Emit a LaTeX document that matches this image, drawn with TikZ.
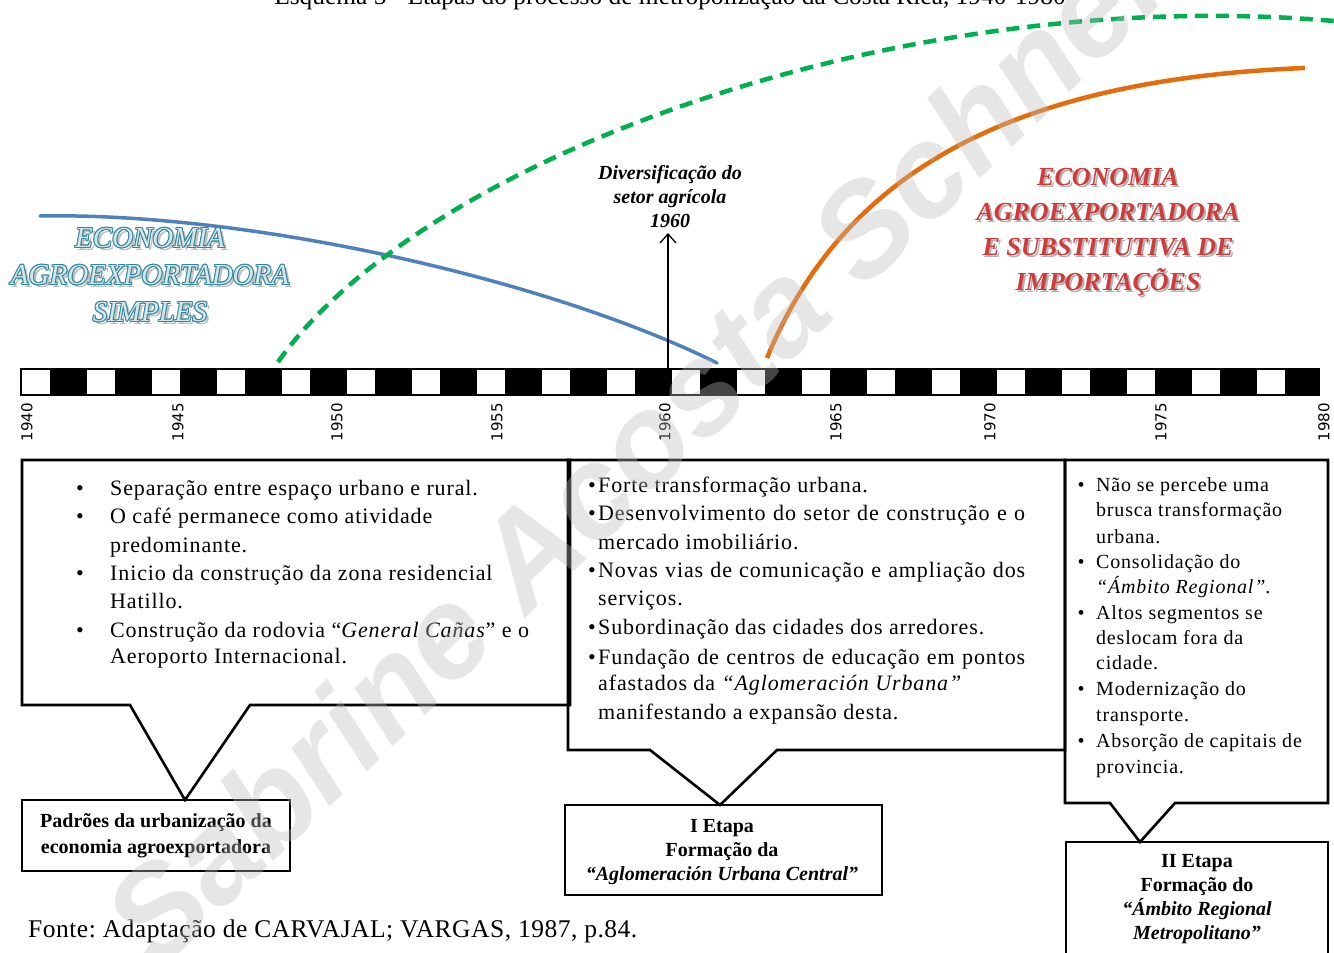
\documentclass[tikz,border=0pt]{standalone}
\usepackage{fontspec}
\setmainfont{Liberation Serif}
\newfontfamily\boxfont{Liberation Serif}[LetterSpace=4]
\newfontfamily\srcfont{Liberation Serif}[LetterSpace=2]
\newfontfamily\yearfont{DejaVu Sans}
\newfontfamily\wmfont{Liberation Sans}
\usetikzlibrary{arrows.meta}
\frenchspacing
\definecolor{cblue}{RGB}{79,129,189}
\definecolor{cgreen}{RGB}{0,176,80}
\definecolor{corange}{RGB}{228,108,10}
\definecolor{cred}{RGB}{208,58,58}
\definecolor{cteal}{RGB}{49,133,156}
\tikzset{
 boxline/.style={line width=2.6pt, line join=miter},
 txtA/.style={anchor=base west, inner sep=0pt, font=\boxfont\fontsize{22}{28}\selectfont},
 txtC/.style={anchor=base west, inner sep=0pt, font=\boxfont\fontsize{20}{25}\selectfont},
 bulA/.style={anchor=base, inner sep=0pt, font=\fontsize{22}{28}\selectfont},
 bulC/.style={anchor=base, inner sep=0pt, font=\fontsize{20}{25}\selectfont},
 lowbox/.style={draw, line width=2.6pt, inner sep=0pt},
 lowtxt/.style={align=center, inner sep=0pt, font=\bfseries\fontsize{20}{24}\selectfont},
 yearlbl/.style={rotate=90, anchor=east, inner sep=0pt, font=\yearfont\fontsize{15}{15}\selectfont},
 redhead/.style={align=center, inner sep=0pt, font=\bfseries\itshape\fontsize{26}{35}\selectfont},
 bluehead/.style={align=center, inner sep=0pt, font=\itshape\fontsize{29}{37}\selectfont},
 divtxt/.style={align=center, inner sep=0pt, font=\bfseries\itshape\fontsize{20}{24}\selectfont},
}
\begin{document}
\begin{tikzpicture}[x=1pt,y=-1pt]
\useasboundingbox (0,0) rectangle (1334,953);
\fill[white] (0,0) rectangle (1334,953);

% title (cut at top)
\node[anchor=base, inner sep=0pt, font=\fontsize{25.4}{25.4}\selectfont] (title) at (670,5)
  {Esquema 5 - Etapas do processo de metropolização da Costa Rica, 1940-1980};

% curves
\draw[cblue, line width=3.5pt, line cap=round] (40,216) .. controls (250,212) and (550,280) .. (717,363);
\draw[cgreen, line width=4.5pt, dash pattern=on 13pt off 8pt] (278,362) .. controls (420,160) and (900,-20) .. (1345,22);
\draw[corange, line width=4.5pt] (767,358) .. controls (840,180) and (1000,80) .. (1305,68);

% headline texts
\node[bluehead, text=black!25] (bsh) at (153,278) {ECONOMIA\\AGROEXPORTADORA\\SIMPLES};
\foreach \dx/\dy [count=\k] in {1/0,-1/0,0/1,0/-1,0.7/0.7,-0.7/0.7,0.7/-0.7,-0.7/-0.7}
  \node[bluehead, text=cteal] (bo\k) at ({150+\dx},{275+\dy}) {ECONOMIA\\AGROEXPORTADORA\\SIMPLES};
\node[bluehead, text=white!80!cteal] (bt) at (150,275) {ECONOMIA\\AGROEXPORTADORA\\SIMPLES};

\node[redhead, text=black!30] (rsh) at (1110,234) {ECONOMIA\\AGROEXPORTADORA\\E SUBSTITUTIVA DE\\IMPORTAÇÕES};
\node[redhead, text=cred] (rt) at (1108,232) {ECONOMIA\\AGROEXPORTADORA\\E SUBSTITUTIVA DE\\IMPORTAÇÕES};

\node[divtxt] (div) at (670,197) {Diversificação do\\setor agrícola\\1960};

% time bar
\fill[black] (20,368) rectangle (1320,396);
\foreach \i in {0,...,19}
  \fill[white] ({22+65*\i},370) rectangle ({50+65*\i},394);

\coordinate (abase) at (668,368);
\coordinate (atip) at (668,233);
\draw[line width=1.3pt, -{Straight Barb[length=9pt,width=16pt]}] (abase) -- (atip);

\foreach \yr/\x in {1940/27,1945/178,1950/337,1955/497,1960/665,1965/836,1970/990,1975/1161,1980/1324}
  \node[yearlbl] (y\yr) at (\x,403) {\yr};

% lower boxes
\node[lowbox, minimum width=268pt, minimum height=71pt] (p1) at (156,835.5) {};
\node[lowbox, minimum width=317pt, minimum height=90pt] (p2) at (723.5,850) {};
\node[lowbox, minimum width=262pt, minimum height=133pt] (p3) at (1197,908.5) {};
\coordinate (a1) at (185,800);
\coordinate (a2) at (720,805);
\coordinate (a3) at (1140,842);

% callout boxes
\draw[boxline] (22,460) -- (570,460) -- (570,705) -- (250,705) -- (a1) -- (130,705) -- (22,705) -- cycle;
\draw[boxline] (568,460) -- (1065,460) -- (1065,750) -- (777,750) -- (a2) -- (650,750) -- (568,750) -- cycle;
\draw[boxline] (1065,460) -- (1328,460) -- (1328,803) -- (1175,803) -- (a3) -- (1110,803) -- (1065,803) -- cycle;

% box 1 text
\foreach \myy/\mytext [count=\i] in {
  488/{Separação entre espaço urbano e rural.},
  516/{O café permanece como atividade},
  545/{predominante.},
  573/{Inicio da construção da zona residencial},
  601/{Hatillo.},
  630/{Construção da rodovia “\textit{General Cañas}” e o},
  656/{Aeroporto Internacional.}}
  \node[txtA] (ba\i) at (110,\myy+7) {\mytext};
\foreach \myy [count=\i] in {488,516,573,630}
  \node[bulA] (bb\i) at (80,\myy+7) {\textbullet};

% box 2 text
\foreach \myy/\mytext [count=\i] in {
  485/{Forte transformação urbana.},
  513/{\makebox[427pt][s]{Desenvolvimento do setor de construção e o}},
  542/{mercado imobiliário.},
  570/{\makebox[427pt][s]{Novas vias de comunicação e ampliação dos}},
  598/{serviços.},
  627/{Subordinação das cidades dos arredores.},
  657/{\makebox[427pt][s]{Fundação de centros de educação em pontos}},
  683/{afastados da \textit{“Aglomeración Urbana”}},
  712/{manifestando a expansão desta.}}
  \node[txtA] (ca\i) at (598,\myy+7) {\mytext};
\foreach \myy [count=\i] in {485,513,570,627,657}
  \node[bulA, anchor=base east] (cb\i) at (596,\myy+7) {\textbullet};

% box 3 text
\foreach \myy/\mytext [count=\i] in {
  485/{Não se percebe uma},
  510/{brusca transformação},
  537/{urbana.},
  562/{Consolidação do},
  587/{\textit{“Ámbito Regional”}.},
  613/{Altos segmentos se},
  638/{deslocam fora da},
  663/{cidade.},
  689/{Modernização do},
  715/{transporte.},
  741/{Absorção de capitais de},
  767/{provincia.}}
  \node[txtC] (da\i) at (1096,\myy+6) {\mytext};
\foreach \myy [count=\i] in {485,562,613,689,741}
  \node[bulC] (db\i) at (1081,\myy+6) {\textbullet};

% lower box texts
\node[lowtxt, font=\bfseries\fontsize{20}{26}\selectfont] (t1) at (156,836) {Padrões da urbanização da\\economia agroexportadora};
\node[lowtxt] (t2) at (722,852.5) {I Etapa\\Formação da\\\textit{“Aglomeración Urbana Central”}};
\node[lowtxt] (t3) at (1197,899.5) {II Etapa\\Formação do\\\textit{“Ámbito Regional}\\\textit{Metropolitano”}};

% source
\node[anchor=base west, inner sep=0pt, font=\srcfont\fontsize{25.5}{25.5}\selectfont] (fonte) at (28,937)
  {Fonte: Adaptação de CARVAJAL; VARGAS, 1987, p.84.};

% watermark
\node[anchor=base west, rotate=44, inner sep=0pt, text=black!26, text opacity=0.37,
  font=\wmfont\bfseries\itshape\fontsize{130}{130}\selectfont] (wm) at (157,974) {Sabrine Acosta Schneider};
\end{tikzpicture}
\end{document}
